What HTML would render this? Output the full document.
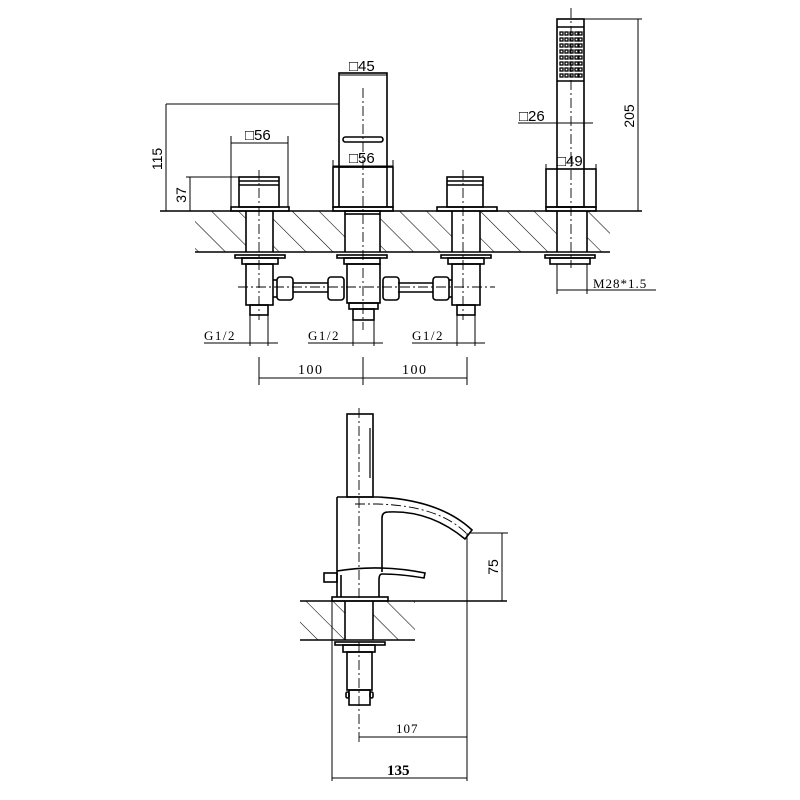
<!DOCTYPE html>
<html><head><meta charset="utf-8"><style>
html,body{margin:0;padding:0;background:#fff}
svg{display:block}
text{font-family:"Liberation Sans",sans-serif;font-size:14px;fill:#000}
</style></head><body>
<svg width="800" height="800" viewBox="0 0 800 800" xmlns="http://www.w3.org/2000/svg">
<defs>
<pattern id="h" patternUnits="userSpaceOnUse" width="19" height="19" patternTransform="rotate(-45)">
<line x1="0" y1="0" x2="0" y2="19" stroke="#000" stroke-width="1.1"/>
</pattern>
</defs>
<g fill="none" stroke="#000" stroke-width="1.6">
<rect x="195" y="211" width="415" height="41" fill="url(#h)" stroke="none"/>
<g fill="#fff" stroke="none">
<rect x="246" y="211" width="27" height="41"/><rect x="345" y="211" width="35" height="41"/>
<rect x="452" y="211" width="28" height="41"/><rect x="557" y="211" width="30" height="41"/>
</g>
<line x1="160" y1="211" x2="642" y2="211"/>
<line x1="195" y1="252" x2="610" y2="252"/>

<rect x="239" y="177" width="40" height="30"/>
<line x1="239" y1="181" x2="279" y2="181"/><line x1="239" y1="185" x2="279" y2="185"/>
<rect x="231" y="207" width="58" height="4"/>
<line x1="246" y1="211" x2="246" y2="252"/><line x1="273" y1="211" x2="273" y2="252"/>
<rect x="235" y="255" width="50" height="3"/>
<rect x="242" y="258" width="36" height="6"/>
<rect x="246" y="264" width="27" height="41"/>
<rect x="250" y="305" width="18" height="10"/>
<rect x="447" y="177" width="36" height="30"/>
<line x1="447" y1="181" x2="483" y2="181"/><line x1="447" y1="185" x2="483" y2="185"/>
<rect x="437" y="207" width="60" height="4"/>
<line x1="452" y1="211" x2="452" y2="252"/><line x1="480" y1="211" x2="480" y2="252"/>
<rect x="441" y="255" width="50" height="3"/>
<rect x="448" y="258" width="36" height="6"/>
<rect x="452" y="264" width="28" height="41"/>
<rect x="457" y="305" width="18" height="10"/>
<rect x="339" y="73" width="48" height="94"/>
<rect x="343" y="137" width="40" height="5" rx="2.5"/>
<rect x="333" y="167" width="60" height="40"/>
<line x1="339" y1="167" x2="339" y2="207"/><line x1="387" y1="167" x2="387" y2="207"/>
<rect x="333" y="207" width="60" height="4"/>
<rect x="345" y="211" width="35" height="3"/>
<line x1="345" y1="214" x2="345" y2="252"/><line x1="380" y1="214" x2="380" y2="252"/>
<rect x="337" y="255" width="50" height="3"/>
<rect x="344" y="258" width="36" height="6"/>
<rect x="347" y="264" width="33" height="39"/>
<rect x="349" y="303" width="29" height="6"/>
<rect x="353" y="309" width="21" height="11"/>
<line x1="293" y1="283" x2="328" y2="283"/><line x1="293" y1="292" x2="328" y2="292"/>
<line x1="398" y1="283" x2="433" y2="283"/><line x1="398" y1="292" x2="433" y2="292"/>
<rect x="277" y="277" width="16" height="23" rx="3"/>
<rect x="328" y="277" width="16" height="23" rx="3"/>
<rect x="383" y="277" width="16" height="23" rx="3"/>
<rect x="433" y="277" width="16" height="23" rx="3"/>
<line x1="273" y1="280" x2="277" y2="280"/><line x1="273" y1="297" x2="277" y2="297"/>
<line x1="449" y1="280" x2="452" y2="280"/><line x1="449" y1="297" x2="452" y2="297"/>
<rect x="557" y="19" width="27" height="188"/>
<line x1="557" y1="27" x2="584" y2="27"/><line x1="557" y1="81" x2="584" y2="81"/>
<rect x="546" y="169" width="50" height="38"/>
<rect x="546" y="207" width="50" height="4"/>
<line x1="557" y1="211" x2="557" y2="252"/><line x1="587" y1="211" x2="587" y2="252"/>
<rect x="545" y="255" width="50" height="3"/>
<rect x="550" y="258" width="40" height="6"/>
</g>
<g fill="none" stroke="#000" stroke-width="1.3">
<g id="gr">
<rect x="560" y="32" width="3" height="3"/><rect x="565" y="32" width="3" height="3"/><rect x="570" y="32" width="3" height="3"/>
<rect x="575" y="32" width="3" height="3"/><rect x="579" y="32" width="3" height="3"/>
</g>
<use href="#gr" y="6"/><use href="#gr" y="12"/><use href="#gr" y="18"/><use href="#gr" y="24"/><use href="#gr" y="30"/><use href="#gr" y="36"/><use href="#gr" y="42"/>
</g>
<g stroke="#000" stroke-width="0.9" stroke-dasharray="10,3,2,3" fill="none">
<line x1="259" y1="170" x2="259" y2="320"/>
<line x1="363" y1="88" x2="363" y2="330"/>
<line x1="463" y1="170" x2="463" y2="320"/>
<line x1="571" y1="8" x2="571" y2="268"/>
<line x1="238" y1="287" x2="495" y2="287"/>
<line x1="359" y1="408" x2="359" y2="745"/>
</g>
<g stroke="#000" stroke-width="1" fill="none">
<line x1="166" y1="104" x2="339" y2="104"/>
<line x1="166" y1="104" x2="166" y2="211"/>
<line x1="186" y1="177" x2="239" y2="177"/>
<line x1="190" y1="177" x2="190" y2="211"/>
<line x1="231" y1="136" x2="231" y2="207"/><line x1="288" y1="136" x2="288" y2="207"/>
<line x1="231" y1="143" x2="288" y2="143"/>
<line x1="339" y1="75" x2="387" y2="75"/>
<line x1="333" y1="160" x2="333" y2="167"/><line x1="393" y1="160" x2="393" y2="167"/>
<line x1="333" y1="166" x2="393" y2="166"/>
<line x1="546" y1="164" x2="546" y2="169"/><line x1="596" y1="164" x2="596" y2="169"/>
<line x1="518" y1="123" x2="593" y2="123"/>
<line x1="584" y1="19" x2="642" y2="19"/>
<line x1="638" y1="19" x2="638" y2="211"/>
<line x1="557" y1="264" x2="557" y2="294"/><line x1="587" y1="264" x2="587" y2="294"/>
<line x1="557" y1="290" x2="656" y2="290"/>
<line x1="250" y1="315" x2="250" y2="346"/><line x1="268" y1="315" x2="268" y2="346"/>
<line x1="204" y1="343" x2="278" y2="343"/>
<line x1="353" y1="320" x2="353" y2="346"/><line x1="374" y1="320" x2="374" y2="346"/>
<line x1="308" y1="343" x2="383" y2="343"/>
<line x1="457" y1="315" x2="457" y2="346"/><line x1="475" y1="315" x2="475" y2="346"/>
<line x1="412" y1="343" x2="485" y2="343"/>
<line x1="259" y1="357" x2="259" y2="385"/><line x1="363" y1="357" x2="363" y2="385"/><line x1="467" y1="357" x2="467" y2="385"/>
<line x1="259" y1="378" x2="467" y2="378"/>
</g>
<g>
<text x="245" y="140" style="font-size:15px">□56</text>
<text x="349" y="71" style="font-size:15px">□45</text>
<text x="349" y="163" style="font-size:15px">□56</text>
<text x="519" y="121" style="font-size:15px">□26</text>
<text x="557" y="166" style="font-size:15px">□49</text>
<text x="593" y="288" style="font-family:'Liberation Serif',serif;font-size:13px;letter-spacing:1px">M28*1.5</text>
<text x="204" y="340" style="font-family:'Liberation Serif',serif;font-size:13px;letter-spacing:1.5px">G1/2</text>
<text x="308" y="340" style="font-family:'Liberation Serif',serif;font-size:13px;letter-spacing:1.5px">G1/2</text>
<text x="412" y="340" style="font-family:'Liberation Serif',serif;font-size:13px;letter-spacing:1.5px">G1/2</text>
<text x="298" y="374" style="font-family:'Liberation Serif',serif;letter-spacing:1.5px">100</text>
<text x="402" y="374" style="font-family:'Liberation Serif',serif;letter-spacing:1.5px">100</text>
<text transform="translate(162,159) rotate(-90)" text-anchor="middle">115</text>
<text transform="translate(186,195) rotate(-90)" text-anchor="middle">37</text>
<text transform="translate(634,116) rotate(-90)" text-anchor="middle">205</text>
<text transform="translate(498,567) rotate(-90)" text-anchor="middle">75</text>
<text x="396" y="733" style="font-family:'Liberation Serif',serif;font-size:13px;letter-spacing:1px">107</text>
<text x="387" y="775" style="font-family:'Liberation Serif',serif;font-size:15px;font-weight:bold">135</text>
</g>

<rect x="300" y="601" width="115" height="39" fill="url(#h)"/>
<rect x="345" y="601" width="28" height="39" fill="#fff"/>
<g fill="none" stroke="#000" stroke-width="1.6">
<line x1="300" y1="601" x2="507" y2="601"/>
<line x1="300" y1="640" x2="415" y2="640"/>
<rect x="347" y="414" width="26" height="83"/>
<line x1="370" y1="428" x2="370" y2="478" stroke-width="1.2"/>
<path d="M337,497 H378 Q440,500 472,530 L465,539 Q430,510 388,512 Q382,512 382,518 V572"/>
<line x1="337" y1="497" x2="337" y2="597"/>
<path d="M337,571 Q380,564 425,573 L424,578 Q400,574 382,574 Q379,574 379,580 V597"/>
<rect x="324" y="573" width="13" height="9"/>
<line x1="341" y1="575" x2="341" y2="597"/>
<rect x="332" y="597" width="56" height="4"/>
<line x1="345" y1="601" x2="345" y2="640"/><line x1="373" y1="601" x2="373" y2="640"/>
<rect x="335" y="642" width="50" height="3"/>
<rect x="343" y="645" width="32" height="7"/>
<rect x="347" y="652" width="25" height="38"/>
<rect x="349" y="690" width="21" height="15"/>
<rect x="346" y="692" width="3" height="6" rx="1.5"/><rect x="370" y="692" width="3" height="6" rx="1.5"/>
</g>
<g stroke="#000" stroke-width="1" fill="none">
<line x1="470" y1="533" x2="508" y2="533"/>
<line x1="502" y1="533" x2="502" y2="601"/>
<line x1="467" y1="533" x2="467" y2="781"/>
<line x1="332" y1="601" x2="332" y2="781"/>
<line x1="359" y1="737" x2="467" y2="737"/>
<line x1="332" y1="778" x2="467" y2="778"/>
</g>
<g stroke="#000" stroke-width="0.9" stroke-dasharray="10,3,2,3" fill="none">
<path d="M355,504 H378 Q440,506 467,534"/>
</g>
</svg>
</body></html>
